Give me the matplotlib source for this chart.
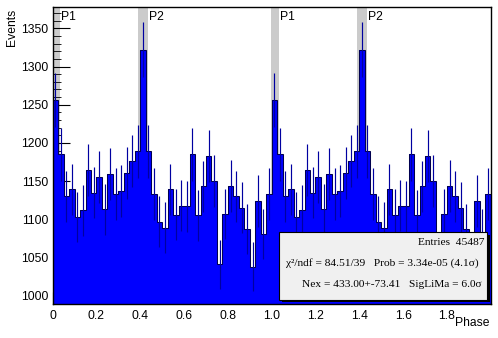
import numpy as np
import matplotlib.pyplot as plt
from matplotlib.patches import Rectangle
from matplotlib.ticker import MultipleLocator, FixedLocator

# counts per phase bin (one period, 40 bins), histogram shows two periods
counts = [1256, 1185, 1130, 1139, 1103, 1112, 1164, 1135, 1155, 1113,
          1159, 1133, 1137, 1161, 1176, 1189, 1322, 1189, 1133, 1097,
          1089, 1139, 1106, 1118, 1117, 1185, 1105, 1143, 1183, 1150,
          1041, 1107, 1144, 1130, 1115, 1087, 1038, 1124, 1081, 1133]
n_periods = 2

# on-pulse regions
p1_ranges = [(-0.005, 0.035), (0.995, 1.035)]
p2_ranges = [(0.39, 0.435), (1.39, 1.435)]

xtick_vals = [0, 0.2, 0.4, 0.6, 0.8, 1.0, 1.2, 1.4, 1.6, 1.8]
xtick_labels = ['0', '0.2', '0.4', '0.6', '0.8', '1.0', '1.2', '1.4', '1.6', '1.8']
ytick_vals = [1000, 1050, 1100, 1150, 1200, 1250, 1300, 1350]

stats_lines = ['Entries  45487',
               '\u03c7\u00b2/ndf = 84.51/39   Prob = 3.34e-05 (4.1\u03c3)',
               'Nex = 433.00+-73.41   SigLiMa = 6.0\u03c3']

vals = np.concatenate([counts] * n_periods).astype(float)
errs = np.sqrt(vals)
edges = np.linspace(0, n_periods, len(vals) + 1)
centers = 0.5 * (edges[:-1] + edges[1:])

plt.rcParams['font.family'] = 'Liberation Sans'

fig = plt.figure(figsize=(4.98, 3.38), dpi=100)
ax = fig.add_axes([0.1058, 0.0997, 0.8795, 0.8787])

ylo, yhi = 988.7, 1377.5

# gray bands
for a, b in p1_ranges + p2_ranges:
    ax.axvspan(a, b, color='#cbcbcb', lw=0, zorder=0)

ax.stairs(vals, edges, baseline=ylo - 50, fill=True, color='#0000ff', zorder=2)
ax.stairs(vals, edges, baseline=ylo - 50, fill=False, color='#000050', lw=0.75, zorder=3)
ax.vlines(centers, vals - errs, vals + errs, color='#0000a0', lw=0.85, zorder=4)

for a, b in p1_ranges:
    ax.text(b + 0.004, 0.986, 'P1', transform=ax.get_xaxis_transform(),
            ha='left', va='top', fontsize=8.7, zorder=5)
for a, b in p2_ranges:
    ax.text(b + 0.004, 0.986, 'P2', transform=ax.get_xaxis_transform(),
            ha='left', va='top', fontsize=8.7, zorder=5)

ax.set_xlim(0, n_periods)
ax.set_ylim(ylo, yhi)

ax.xaxis.set_major_locator(FixedLocator(xtick_vals))
ax.set_xticklabels(xtick_labels)
ax.xaxis.set_minor_locator(MultipleLocator(0.05))
ax.yaxis.set_major_locator(FixedLocator(ytick_vals))
ax.yaxis.set_minor_locator(MultipleLocator(10))
ax.tick_params(axis='both', which='both', direction='in', labelsize=8.7, color='black')
ax.tick_params(axis='x', which='major', length=9, pad=4)
ax.tick_params(axis='x', which='minor', length=4.5)
ax.tick_params(axis='y', which='major', length=12, pad=3)
ax.tick_params(axis='y', which='minor', length=6)
for s in ax.spines.values():
    s.set_linewidth(1.0)
    s.set_zorder(6)

# axis titles, ROOT style
fig.text(12.5 / 498, 1 - 8.5 / 338, 'Events', rotation=90, ha='center', va='top', fontsize=8.7)
fig.text(489 / 498, 1 - 316.5 / 338, 'Phase', ha='right', va='top', fontsize=8.7)

# stats box with shadow
bx0, bx1, by0, by1 = 0.517, 0.992, 0.016, 0.243
sh = 2.5 / 438
ax.add_patch(Rectangle((bx0 + sh, by0 - 2.5 / 297), bx1 - bx0, by1 - by0,
                       transform=ax.transAxes, facecolor='black', lw=0, zorder=7))
ax.add_patch(Rectangle((bx0, by0), bx1 - bx0, by1 - by0, transform=ax.transAxes,
                       facecolor='#f0f0f0', edgecolor='black', lw=0.8, zorder=8))
line_x = [0.986, 0.973, 0.980]
line_y = [0.207, 0.138, 0.065]
for txt, lx, ly in zip(stats_lines, line_x, line_y):
    ax.text(lx, ly, txt, transform=ax.transAxes, ha='right', va='center',
            family='Liberation Serif', fontsize=8.2, zorder=9)

fig.savefig('out.png', dpi=100)
